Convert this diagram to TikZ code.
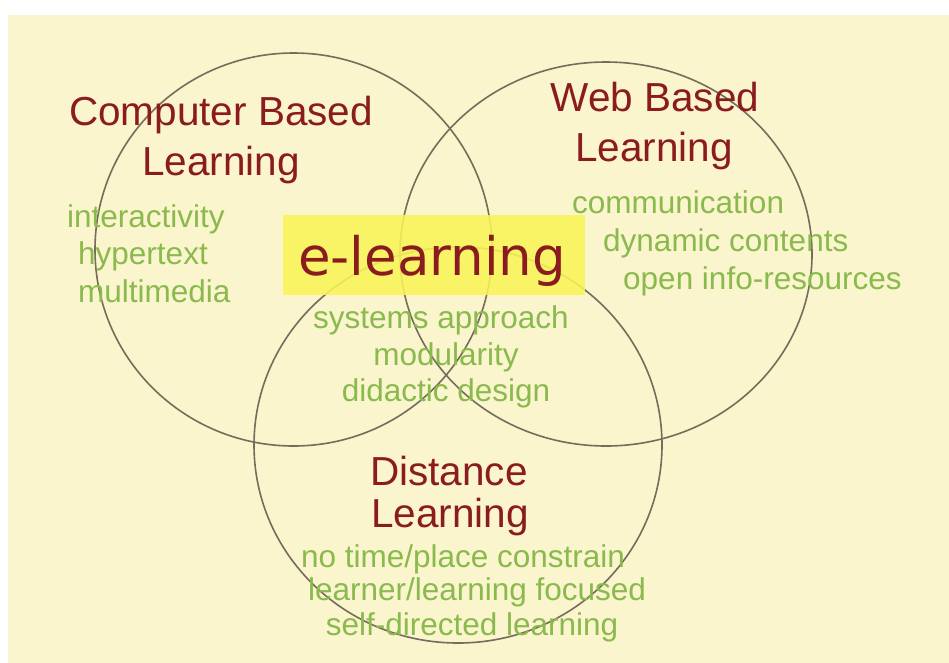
\documentclass[tikz,border=0pt]{standalone}
\usepackage{fontspec}
\setmainfont{Liberation Sans}
\newfontfamily\elfont{DejaVu Sans}
\definecolor{bgbeige}{RGB}{250,245,204}
\definecolor{boxyellow}{RGB}{248,244,88}
\definecolor{ringgray}{RGB}{118,108,92}
\definecolor{titlered}{RGB}{138,28,32}
\definecolor{itemgreen}{RGB}{138,186,78}
\begin{document}
\begin{tikzpicture}[x=1pt,y=-1pt,
  title/.style={text=titlered, font=\fontsize{40.5}{40.5}\selectfont, anchor=base, inner sep=0pt},
  item/.style={text=itemgreen, font=\fontsize{31.5}{31.5}\selectfont, anchor=base, inner sep=0pt},
  itemw/.style={item, anchor=base west},
  ring/.style={draw=ringgray, line width=1.6pt}]
\useasboundingbox (0,0) rectangle (949,662);
\fill[white] (0,0) rectangle (949,662);
\fill[bgbeige] (8,15) rectangle (950,663);
% circles
\draw[ring] (293.5,249.5) ellipse [x radius=198.5pt, y radius=196.5pt];
\draw[ring] (606,254) ellipse [x radius=206pt, y radius=192pt];
\draw[ring] (458,445) ellipse [x radius=204pt, y radius=198pt];
% central box
\fill[boxyellow, fill opacity=0.88] (283,215) rectangle (585,295);
\node[anchor=base, inner sep=0pt, text=titlered, font=\elfont\fontsize{53}{53}\selectfont] (el) at (432,275) {e-learning};
% Computer Based Learning
\node[title] (cb1) at (221,125) {Computer Based};
\node[title] (cb2) at (221,175) {Learning};
\node[itemw] (cbi1) at (67,227) {interactivity};
\node[itemw] (cbi2) at (78,264) {hypertext};
\node[itemw] (cbi3) at (78,302) {multimedia};
% Web Based Learning
\node[title] (wb1) at (655,111) {Web Based};
\node[title] (wb2) at (654,161) {Learning};
\node[itemw] (wbi1) at (572,213) {communication};
\node[itemw] (wbi2) at (603,251) {dynamic contents};
\node[itemw] (wbi3) at (623,289) {open info-resources};
% centre items
\node[item] (ci1) at (441,328) {systems approach};
\node[item] (ci2) at (446,365) {modularity};
\node[item] (ci3) at (446,401) {didactic design};
% Distance Learning
\node[title] (dl1) at (449,485) {Distance};
\node[title] (dl2) at (450,527) {Learning};
\node[item] (dli1) at (463,567) {no time/place constrain};
\node[item] (dli2) at (477,600) {learner/learning focused};
\node[item] (dli3) at (472,635) {self-directed learning};
\end{tikzpicture}
\end{document}
